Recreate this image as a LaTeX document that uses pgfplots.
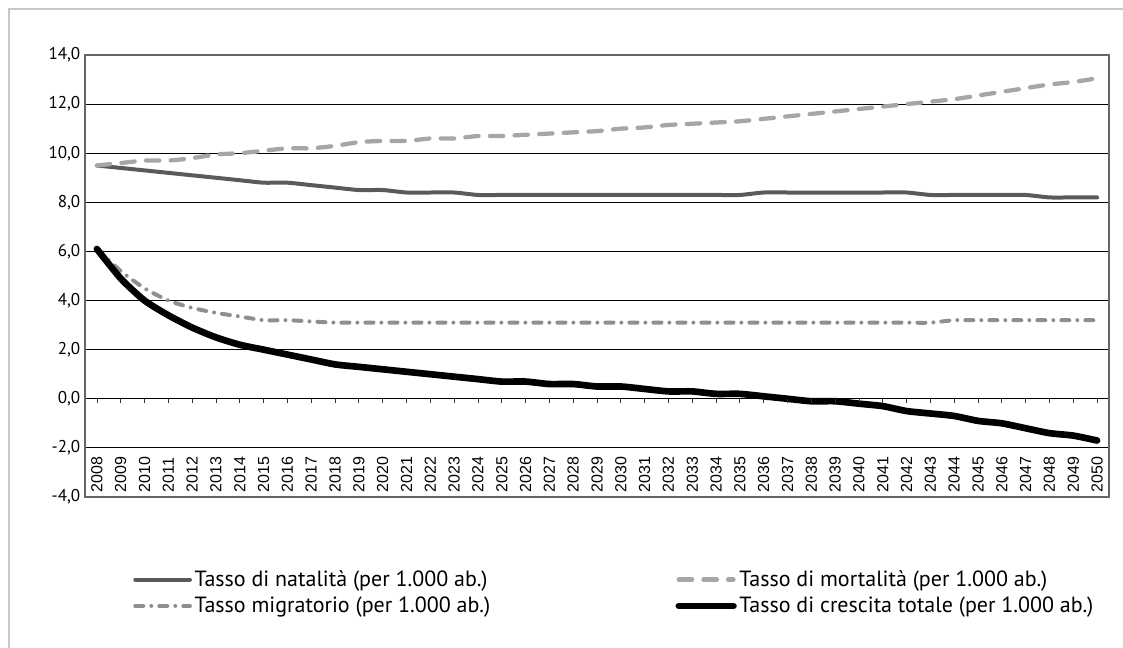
\documentclass[border=0pt]{standalone}
\usepackage{fontspec}
\setmainfont{PT Sans}
\newfontfamily\arialf{Liberation Sans}
\usepackage{pgfplots}
\usepackage{pgfplotstable}
\pgfplotsset{compat=1.18}
\definecolor{natc}{HTML}{5A5A5A}
\definecolor{morc}{HTML}{A6A6A6}
\definecolor{migc}{HTML}{8F8F8F}
\definecolor{framec}{HTML}{C8C8C8}
\pgfplotstableread{
i year nat mor mig cre
0 2008 9.5 9.5 6.1 6.1
1 2009 9.4 9.6 5.2 4.9
2 2010 9.3 9.7 4.5 4.0
3 2011 9.2 9.7 4.0 3.4
4 2012 9.1 9.8 3.7 2.9
5 2013 9.0 9.95 3.5 2.5
6 2014 8.9 10.0 3.35 2.2
7 2015 8.8 10.1 3.2 2.0
8 2016 8.8 10.2 3.2 1.8
9 2017 8.7 10.2 3.15 1.6
10 2018 8.6 10.3 3.1 1.4
11 2019 8.5 10.45 3.1 1.3
12 2020 8.5 10.5 3.1 1.2
13 2021 8.4 10.5 3.1 1.1
14 2022 8.4 10.6 3.1 1.0
15 2023 8.4 10.6 3.1 0.9
16 2024 8.3 10.7 3.1 0.8
17 2025 8.3 10.7 3.1 0.7
18 2026 8.3 10.75 3.1 0.7
19 2027 8.3 10.8 3.1 0.6
20 2028 8.3 10.85 3.1 0.6
21 2029 8.3 10.9 3.1 0.5
22 2030 8.3 11.0 3.1 0.5
23 2031 8.3 11.05 3.1 0.4
24 2032 8.3 11.15 3.1 0.3
25 2033 8.3 11.2 3.1 0.3
26 2034 8.3 11.25 3.1 0.2
27 2035 8.3 11.3 3.1 0.2
28 2036 8.4 11.4 3.1 0.1
29 2037 8.4 11.5 3.1 0.0
30 2038 8.4 11.6 3.1 -0.1
31 2039 8.4 11.7 3.1 -0.1
32 2040 8.4 11.8 3.1 -0.2
33 2041 8.4 11.9 3.1 -0.3
34 2042 8.4 12.0 3.1 -0.5
35 2043 8.3 12.1 3.1 -0.6
36 2044 8.3 12.2 3.2 -0.7
37 2045 8.3 12.35 3.2 -0.9
38 2046 8.3 12.5 3.2 -1.0
39 2047 8.3 12.65 3.2 -1.2
40 2048 8.2 12.8 3.2 -1.4
41 2049 8.2 12.9 3.2 -1.5
42 2050 8.2 13.05 3.2 -1.7
}\datatable
\begin{document}
\begin{tikzpicture}
\path[use as bounding box] (0,0) rectangle (842.25pt,486pt);
\draw[framec, line width=1.1pt] (6.75pt,0) -- (6.75pt,479.25pt) -- (842.25pt,479.25pt);
\begin{axis}[
  at={(63.75pt,113.25pt)}, anchor=south west,
  scale only axis, width=768pt, height=331.5pt,
  xmin=-0.5, xmax=42.5, ymin=-4, ymax=14,
  xtick={0,...,42},
  xticklabels={2008,2009,2010,2011,2012,2013,2014,2015,2016,2017,2018,2019,2020,2021,2022,2023,2024,2025,2026,2027,2028,2029,2030,2031,2032,2033,2034,2035,2036,2037,2038,2039,2040,2041,2042,2043,2044,2045,2046,2047,2048,2049,2050},
  ytick={-4,-2,...,14},
  /pgf/number format/assume math mode=true,
  xticklabel style={rotate=90, anchor=west, font=\arialf\fontsize{12pt}{13pt}\selectfont},
  yticklabel style={font=\fontsize{12.8pt}{14pt}\selectfont, /pgf/number format/.cd, fixed, fixed zerofill, precision=1, use comma},
  major tick length=0pt,
  ymajorgrids, grid style={black, line width=0.6pt},
  axis line style={draw=black!60, line width=0.8pt},
  clip=false,
  legend columns=2,
  legend cell align=left,
  legend image code/.code={\draw[#1] (0pt,0pt) -- (41pt,0pt);},
  legend style={draw=none, fill=none, at={(0,0)}, anchor=north west, xshift=33pt, yshift=-51pt,
    font=\fontsize{16.5pt}{18pt}\selectfont, row sep=2.5pt,
    nodes={inner sep=2pt},
    /tikz/every even column/.append style={column sep=137pt}},
]
\addplot[natc, line width=3pt, smooth, tension=0.4, line cap=round, line join=round] table[x=i,y=nat]{\datatable};
\addlegendentry{Tasso di natalità (per 1.000 ab.)}
\addplot[morc, line width=3.2pt, smooth, tension=0.4, line cap=round, dash pattern=on 10pt off 8.5pt] table[x=i,y=mor]{\datatable};
\addlegendentry{Tasso di mortalità (per 1.000 ab.)}
\addplot[migc, line width=3pt, smooth, tension=0.4, line cap=round, dash pattern=on 6pt off 6pt on 0pt off 6pt] table[x=i,y=mig]{\datatable};
\addlegendentry{Tasso migratorio (per 1.000 ab.)}
\addplot[black, line width=5pt, smooth, tension=0.4, line cap=round, line join=round] table[x=i,y=cre]{\datatable};
\addlegendentry{Tasso di crescita totale (per 1.000 ab.)}
\pgfplotsinvokeforeach{0,...,42}{\draw[black!80, line width=0.6pt] (axis cs:#1,0) -- ++(0pt,-3pt);}
\end{axis}
\end{tikzpicture}
\end{document}
